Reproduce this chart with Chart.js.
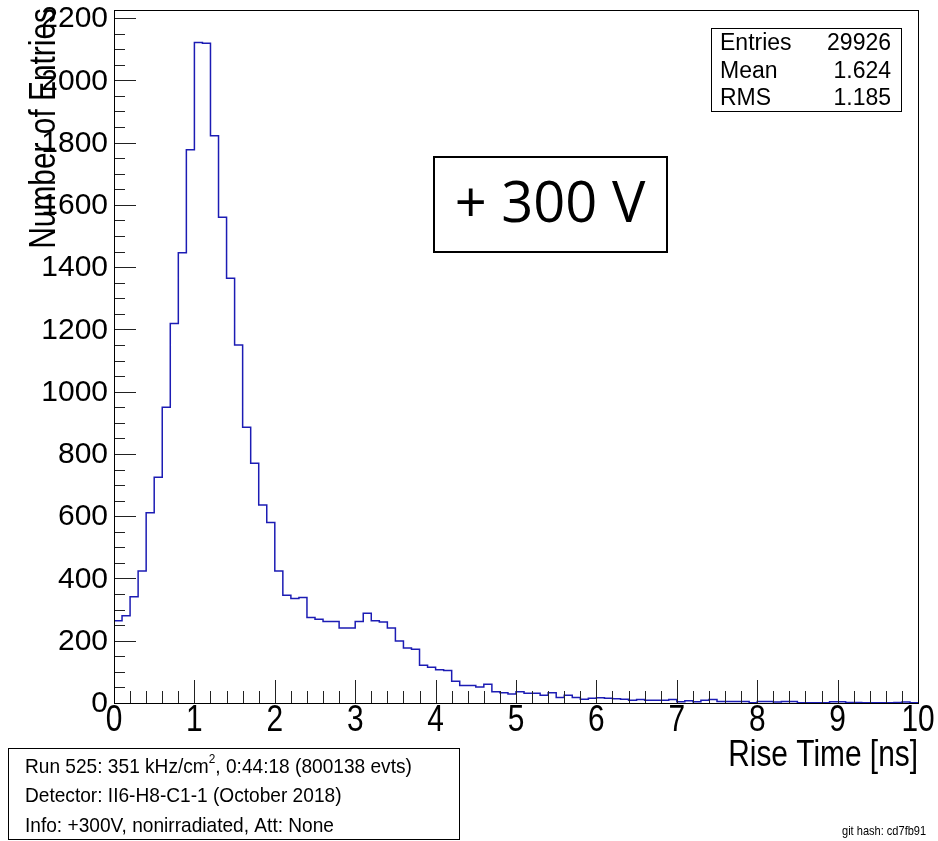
<!DOCTYPE html>
<html>
<head>
<meta charset="utf-8">
<script src="https://cdn.jsdelivr.net/npm/chart.js@4.4.1/dist/chart.umd.min.js"></script>
<style>
  body { margin: 0; background: #fff; }
  #wrap { width: 938px; height: 841px; }
</style>
</head>
<body>
<div id="wrap"><canvas id="riseChart" width="938" height="841"></canvas></div>
<script>
// rise time histogram, 100 bins of 0.1 ns between 0 and 10 ns
const xMin = 0;
const xMax = 10;
const binWidth = 0.1;
const counts = [
  264, 280, 341, 424, 611, 725, 950, 1219, 1446, 1777,
  2122, 2119, 1822, 1560, 1364, 1150, 886, 770, 636, 580,
  424, 346, 336, 339, 275, 269, 262, 262, 241, 241,
  262, 288, 264, 260, 241, 199, 177, 173, 121, 115,
  107, 104, 70, 56, 56, 51, 60, 36, 33, 29,
  36, 31, 31, 25, 33, 18, 25, 18, 12, 15,
  17, 15, 14, 12, 9, 11, 9, 9, 9, 11,
  4, 7, 4, 9, 11, 5, 5, 5, 5, 1,
  5, 5, 3, 5, 5, 1, 1, 1, 1, 4,
  4, 2, 2, 1, 1, 1, 1, 2, 3, 1
];
const yMax = 2226;
const xTickValues = [0, 1, 2, 3, 4, 5, 6, 7, 8, 9, 10];
const yTickValues = [0, 200, 400, 600, 800, 1000, 1200, 1400, 1600, 1800, 2000, 2200];

const statsLabels = ['Entries', 'Mean', 'RMS'];
const statsValues = ['29926', '1.624', '1.185'];
const voltageLabel = '+ 300 V';
const infoLines = [
  ['Run 525: 351 kHz/cm', '2', ', 0:44:18 (800138 evts)'],
  ['Detector: II6-H8-C1-1 (October 2018)'],
  ['Info: +300V, nonirradiated, Att: None']
];
const gitHash = 'git hash: cd7fb91';

// step points at the low edge of each bin, plus the closing edge
const points = counts.map((c, i) => ({ x: xMin + i * binWidth, y: c }));
points.push({ x: xMax, y: counts[counts.length - 1] });

const sans = '"Liberation Sans", Arial, sans-serif';

// ROOT's helvetica comes out condensed in this picture
function squeezedText(ctx, text, x, y, sx) {
  ctx.save();
  ctx.translate(x, y);
  ctx.scale(sx, 1);
  ctx.fillText(text, 0, 0);
  ctx.restore();
}

const rootDecor = {
  id: 'rootDecor',
  afterDatasetsDraw(chart) {
    const ctx = chart.ctx;
    const a = chart.chartArea;
    const xs = chart.scales.x;
    const ys = chart.scales.y;
    ctx.save();

    // inward ticks like ROOT
    ctx.strokeStyle = '#222';
    ctx.lineWidth = 1;
    ctx.beginPath();
    for (let i = 0; i <= 50; i++) {
      const px = Math.round(xs.getPixelForValue(i * 0.2)) + 0.5;
      const len = i % 5 === 0 ? 23 : 12;
      ctx.moveTo(px, a.bottom);
      ctx.lineTo(px, a.bottom - len);
    }
    for (let i = 0; i * 50 <= yMax; i++) {
      const py = Math.round(ys.getPixelForValue(i * 50)) + 0.5;
      const len = i % 4 === 0 ? 22 : 11;
      ctx.moveTo(a.left, py);
      ctx.lineTo(a.left + len, py);
    }
    ctx.stroke();

    // frame
    ctx.strokeStyle = '#000';
    ctx.strokeRect(Math.round(a.left) + 0.5, Math.round(a.top) + 0.5,
      Math.round(a.right - a.left), Math.round(a.bottom - a.top));

    // tick labels
    ctx.fillStyle = '#000';
    ctx.font = '36px ' + sans;
    ctx.textAlign = 'center';
    ctx.textBaseline = 'middle';
    xs.ticks.forEach(t => {
      squeezedText(ctx, String(t.value), xs.getPixelForValue(t.value), 721, 0.83);
    });
    ctx.font = '30px ' + sans;
    ctx.textAlign = 'right';
    ys.ticks.forEach(t => {
      ctx.fillText(String(t.value), 108, ys.getPixelForValue(t.value) + 1);
    });

    // axis titles
    ctx.font = '36px ' + sans;
    ctx.textAlign = 'right';
    ctx.textBaseline = 'alphabetic';
    squeezedText(ctx, 'Rise Time [ns]', a.right, 766, 0.83);

    ctx.save();
    ctx.translate(55, 8);
    ctx.rotate(-Math.PI / 2);
    ctx.scale(0.83, 1);
    ctx.textAlign = 'right';
    ctx.fillText('Number of Entries', 0, 0);
    ctx.restore();

    // stats box
    ctx.fillStyle = '#fff';
    ctx.fillRect(711, 28, 190, 83);
    ctx.strokeStyle = '#000';
    ctx.strokeRect(711.5, 28.5, 190, 83);
    ctx.fillStyle = '#000';
    ctx.font = '23px ' + sans;
    ctx.textBaseline = 'middle';
    statsLabels.forEach((lab, i) => {
      const yy = 44 + i * 27.5;
      ctx.textAlign = 'left';
      ctx.fillText(lab, 720, yy);
      ctx.textAlign = 'right';
      ctx.fillText(statsValues[i], 891, yy);
    });

    // voltage label box
    ctx.fillStyle = '#fff';
    ctx.fillRect(434, 157, 233, 95);
    ctx.lineWidth = 2;
    ctx.strokeRect(434, 157, 233, 95);
    ctx.fillStyle = '#000';
    ctx.font = '56px "Open Sans", sans-serif';
    ctx.textAlign = 'center';
    ctx.textBaseline = 'middle';
    ctx.fillText(voltageLabel, 550, 206);

    // run info box
    ctx.lineWidth = 1;
    ctx.strokeRect(8.5, 748.5, 451, 91);
    ctx.textAlign = 'left';
    ctx.textBaseline = 'middle';
    const sx = 0.91;
    infoLines.forEach((parts, i) => {
      const yy = 767 + i * 29.5;
      let x = 25;
      parts.forEach((p, j) => {
        const sup = parts.length === 3 && j === 1;
        ctx.font = (sup ? '13px ' : '21px ') + sans;
        squeezedText(ctx, p, x, sup ? yy - 8 : yy, sx);
        x += ctx.measureText(p).width * sx;
      });
    });

    ctx.font = '13px ' + sans;
    squeezedText(ctx, gitHash, 842, 831, 0.85);
    ctx.restore();
  }
};

new Chart(document.getElementById('riseChart'), {
  type: 'line',
  data: {
    datasets: [{
      label: 'Rise Time',
      data: points,
      stepped: true,
      borderColor: '#1c1cb4',
      borderWidth: 1.5,
      pointRadius: 0,
      fill: false
    }]
  },
  options: {
    responsive: false,
    animation: false,
    devicePixelRatio: 1,
    layout: { padding: { top: 10, right: 20, left: 0, bottom: 0 } },
    plugins: { legend: { display: false }, tooltip: { enabled: false } },
    scales: {
      x: {
        type: 'linear',
        min: xMin,
        max: xMax,
        grid: { display: false, drawTicks: false },
        border: { display: false },
        afterBuildTicks(scale) {
          scale.ticks = xTickValues.map(v => ({ value: v }));
        },
        afterFit(scale) {
          scale.height = 138;
          scale.paddingLeft = 0;
          scale.paddingRight = 0;
        },
        ticks: { display: false }
      },
      y: {
        type: 'linear',
        min: 0,
        max: yMax,
        grid: { display: false, drawTicks: false },
        border: { display: false },
        afterBuildTicks(scale) {
          scale.ticks = yTickValues.map(v => ({ value: v }));
        },
        afterFit(scale) {
          scale.width = 114;
          scale.paddingTop = 0;
          scale.paddingBottom = 0;
        },
        ticks: { display: false }
      }
    }
  },
  plugins: [rootDecor]
});
</script>
</body>
</html>
